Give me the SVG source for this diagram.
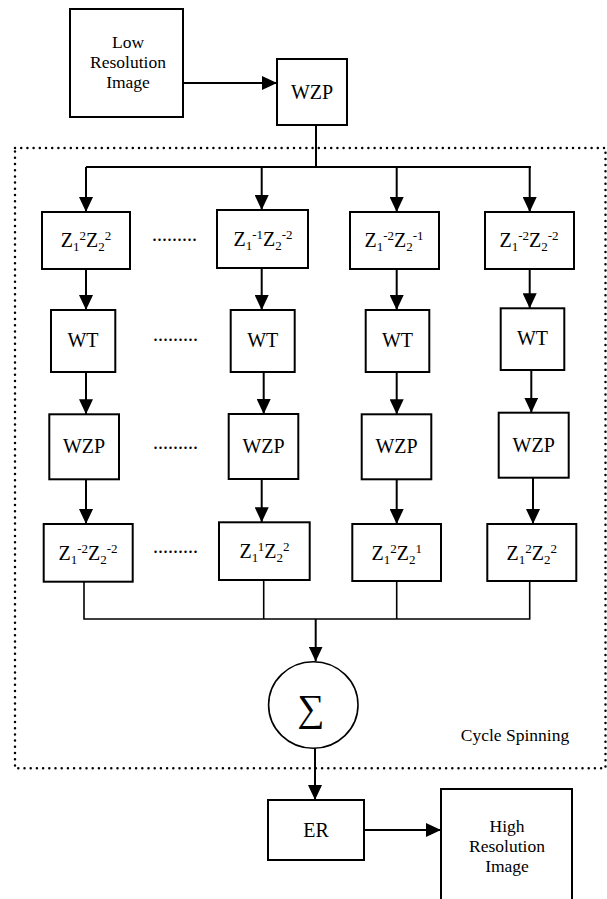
<svg xmlns="http://www.w3.org/2000/svg" width="607" height="899" viewBox="0 0 607 899">
  <style>
    text { font-family: "Liberation Serif", Tinos, "DejaVu Serif", "Times New Roman", serif; fill: #000; }
    .box { fill: #fff; stroke: #000; stroke-width: 2; }
    .lbl { font-size: 17.5px; text-anchor: middle; }
    .blk { font-size: 20px; text-anchor: middle; }
    .sc { font-size: 13px; }
    .dots { font-size: 20px; }
    .arr { fill: none; stroke: #000; stroke-width: 2; marker-end: url(#head); }
    .ln { fill: none; stroke: #000; stroke-width: 2; }
    .mg { fill: none; stroke: #000; stroke-width: 1.6; }
  </style>
  <defs>
    <marker id="head" markerUnits="userSpaceOnUse" viewBox="0 0 15 14" refX="15" refY="7" markerWidth="15" markerHeight="14" orient="auto">
      <path d="M0,0 L15,7 L0,14 z" fill="#000"/>
    </marker>
  </defs>
  <rect width="607" height="899" fill="#fff"/>

  <!-- cycle spinning frame -->
  <g id="cycle-spinning">
    <rect x="15" y="148" width="590.5" height="620.3" fill="none" stroke="#000" stroke-width="2.5" stroke-linecap="round" stroke-dasharray="0 6.2"/>
    <text class="lbl" x="515" y="741">Cycle Spinning</text>
  </g>

  <!-- connectors -->
  <g id="connectors">
    <line class="arr" x1="183" y1="83" x2="277" y2="83"/>
    <polyline class="ln" points="316,125 316,167"/>
    <line class="ln" x1="86" y1="167" x2="531" y2="167"/>
    <line class="arr" x1="86" y1="167" x2="86" y2="212"/>
    <line class="arr" x1="261.7" y1="167" x2="261.7" y2="210"/>
    <line class="arr" x1="396.7" y1="167" x2="396.7" y2="212"/>
    <line class="arr" x1="529.7" y1="167" x2="529.7" y2="212"/>

    <line class="arr" x1="86" y1="269" x2="86" y2="310"/>
    <line class="arr" x1="261.7" y1="268" x2="261.7" y2="310"/>
    <line class="arr" x1="396.7" y1="269" x2="396.7" y2="310"/>
    <line class="arr" x1="529.7" y1="269" x2="529.7" y2="308.3"/>

    <line class="arr" x1="86" y1="372" x2="86" y2="414.3"/>
    <line class="arr" x1="263.7" y1="372" x2="263.7" y2="414"/>
    <line class="arr" x1="396.7" y1="372" x2="396.7" y2="414.3"/>
    <line class="arr" x1="531.3" y1="370" x2="531.3" y2="412.7"/>

    <line class="arr" x1="86" y1="479.3" x2="86" y2="524"/>
    <line class="arr" x1="261.7" y1="479" x2="261.7" y2="522.3"/>
    <line class="arr" x1="396.7" y1="479.3" x2="396.7" y2="524"/>
    <line class="arr" x1="533" y1="477.7" x2="533" y2="524"/>

    <polyline class="mg" points="84,581.7 84,619 529.7,619 529.7,581"/>
    <line class="mg" x1="263.7" y1="580" x2="263.7" y2="619"/>
    <line class="mg" x1="396.7" y1="581" x2="396.7" y2="619"/>
    <line class="arr" x1="315.7" y1="619" x2="315.7" y2="661.5"/>

    <line class="arr" x1="315" y1="748" x2="315" y2="800"/>
    <line class="arr" x1="364" y1="830" x2="441" y2="830"/>
  </g>

  <!-- input / output -->
  <g id="low-res">
    <rect class="box" x="70" y="9" width="113" height="108"/>
    <text class="lbl" x="128" y="48">Low</text>
    <text class="lbl" x="128" y="68">Resolution</text>
    <text class="lbl" x="128" y="88">Image</text>
  </g>
  <g id="wzp-top">
    <rect class="box" x="277" y="59" width="70" height="66"/>
    <text class="blk" x="312" y="99">WZP</text>
  </g>

  <!-- row 1: shifts -->
  <g id="shift-1">
    <rect class="box" x="42" y="212" width="88" height="57"/>
    <text class="blk" x="86" y="247">Z<tspan class="sc" dy="4">1</tspan><tspan class="sc" dy="-11">2</tspan><tspan dy="7">Z</tspan><tspan class="sc" dy="4">2</tspan><tspan class="sc" dy="-11">2</tspan></text>
  </g>
  <g id="shift-2">
    <rect class="box" x="217" y="210" width="91" height="58"/>
    <text class="blk" x="263" y="246">Z<tspan class="sc" dy="4">1</tspan><tspan class="sc" dy="-11">-1</tspan><tspan dy="7">Z</tspan><tspan class="sc" dy="4">2</tspan><tspan class="sc" dy="-11">-2</tspan></text>
  </g>
  <g id="shift-3">
    <rect class="box" x="350" y="212" width="89" height="57"/>
    <text class="blk" x="394" y="247">Z<tspan class="sc" dy="4">1</tspan><tspan class="sc" dy="-11">-2</tspan><tspan dy="7">Z</tspan><tspan class="sc" dy="4">2</tspan><tspan class="sc" dy="-11">-1</tspan></text>
  </g>
  <g id="shift-4">
    <rect class="box" x="485" y="212" width="89" height="57"/>
    <text class="blk" x="529" y="247">Z<tspan class="sc" dy="4">1</tspan><tspan class="sc" dy="-11">-2</tspan><tspan dy="7">Z</tspan><tspan class="sc" dy="4">2</tspan><tspan class="sc" dy="-11">-2</tspan></text>
  </g>
  <text class="dots" x="152" y="241">.........</text>

  <!-- row 2: WT -->
  <g id="wt-1"><rect class="box" x="51" y="310" width="64.3" height="62"/><text class="blk" x="83" y="347">WT</text></g>
  <g id="wt-2"><rect class="box" x="230.7" y="310" width="64" height="62"/><text class="blk" x="262.7" y="347">WT</text></g>
  <g id="wt-3"><rect class="box" x="365.7" y="310" width="63.6" height="62"/><text class="blk" x="397.5" y="347">WT</text></g>
  <g id="wt-4"><rect class="box" x="500.7" y="308.3" width="63.6" height="61.7"/><text class="blk" x="532.5" y="345">WT</text></g>
  <text class="dots" x="153" y="341">.........</text>

  <!-- row 3: WZP -->
  <g id="wzp-1"><rect class="box" x="49.3" y="414.3" width="69.7" height="65"/><text class="blk" x="84" y="453.3">WZP</text></g>
  <g id="wzp-2"><rect class="box" x="228.7" y="414" width="69.6" height="65"/><text class="blk" x="263.5" y="453">WZP</text></g>
  <g id="wzp-3"><rect class="box" x="361.7" y="414.3" width="69.6" height="65"/><text class="blk" x="396.5" y="453.3">WZP</text></g>
  <g id="wzp-4"><rect class="box" x="498.7" y="412.7" width="70" height="65"/><text class="blk" x="533.7" y="451.7">WZP</text></g>
  <text class="dots" x="153" y="449">.........</text>

  <!-- row 4: inverse shifts -->
  <g id="unshift-1">
    <rect class="box" x="43.7" y="524" width="89" height="57.7"/>
    <text class="blk" x="88" y="559.5">Z<tspan class="sc" dy="4">1</tspan><tspan class="sc" dy="-11">-2</tspan><tspan dy="7">Z</tspan><tspan class="sc" dy="4">2</tspan><tspan class="sc" dy="-11">-2</tspan></text>
  </g>
  <g id="unshift-2">
    <rect class="box" x="219" y="522.3" width="90.7" height="57.7"/>
    <text class="blk" x="264.5" y="558">Z<tspan class="sc" dy="4">1</tspan><tspan class="sc" dy="-11">1</tspan><tspan dy="7">Z</tspan><tspan class="sc" dy="4">2</tspan><tspan class="sc" dy="-11">2</tspan></text>
  </g>
  <g id="unshift-3">
    <rect class="box" x="352.3" y="524" width="88.7" height="57"/>
    <text class="blk" x="396.7" y="559.5">Z<tspan class="sc" dy="4">1</tspan><tspan class="sc" dy="-11">2</tspan><tspan dy="7">Z</tspan><tspan class="sc" dy="4">2</tspan><tspan class="sc" dy="-11">1</tspan></text>
  </g>
  <g id="unshift-4">
    <rect class="box" x="487.3" y="524" width="89" height="57"/>
    <text class="blk" x="531.8" y="559.5">Z<tspan class="sc" dy="4">1</tspan><tspan class="sc" dy="-11">2</tspan><tspan dy="7">Z</tspan><tspan class="sc" dy="4">2</tspan><tspan class="sc" dy="-11">2</tspan></text>
  </g>
  <text class="dots" x="153" y="553">.........</text>

  <!-- summation -->
  <g id="sum">
    <ellipse cx="313.3" cy="705" rx="44.7" ry="43.3" fill="#fff" stroke="#000" stroke-width="1.6"/>
    <text x="311" y="721" font-size="38" text-anchor="middle">∑</text>
  </g>

  <g id="er">
    <rect class="box" x="268" y="800" width="96" height="60"/>
    <text class="blk" x="316" y="837">ER</text>
  </g>
  <g id="high-res">
    <rect class="box" x="441" y="789" width="131" height="125"/>
    <text class="lbl" x="507" y="832">High</text>
    <text class="lbl" x="507" y="852">Resolution</text>
    <text class="lbl" x="507" y="872">Image</text>
  </g>
</svg>
